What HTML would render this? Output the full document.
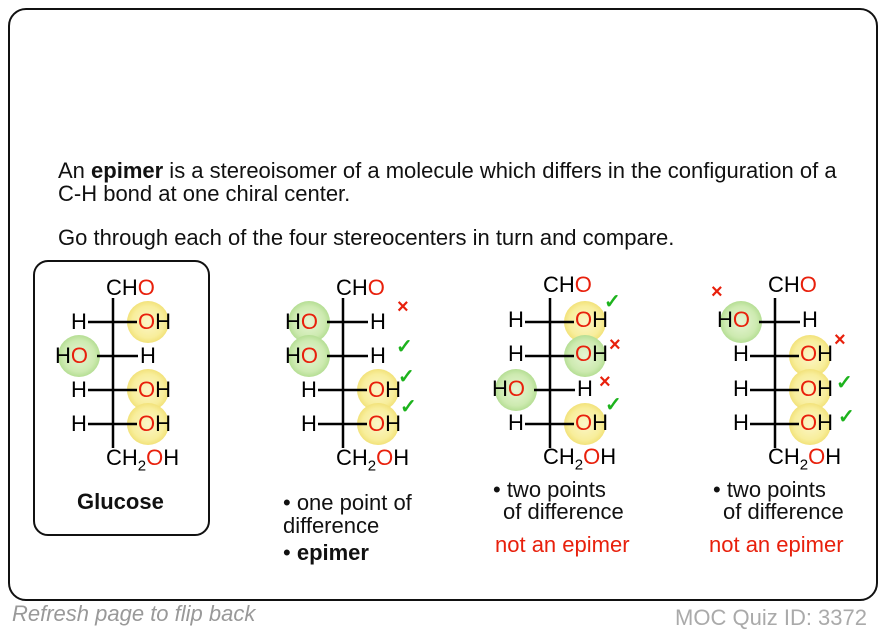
<!DOCTYPE html>
<html><head><meta charset="utf-8"><style>
body{margin:0;width:884px;height:632px;background:#fff;position:relative;overflow:hidden;font-family:"Liberation Sans",sans-serif;}
.a{position:absolute;white-space:nowrap;line-height:26px;}
.f{font-size:22px;color:#000;}
.r{color:#e8200c;}
.s{position:absolute;left:0;top:0;width:884px;height:632px;}
.m{position:absolute;font-size:20px;font-weight:bold;line-height:20px;}
.g{color:#1db31d;}
.t{font-size:22px;color:#111;}
sub{font-size:15px;line-height:0;}
</style></head><body>
<div style="position:absolute;left:8px;top:8px;width:866px;height:589px;border:2px solid #111;border-radius:18px;"></div>
<div class="a t" style="left:58px;top:158px;">An <b>epimer</b> is a stereoisomer of a molecule which differs in the configuration of a</div>
<div class="a t" style="left:58px;top:181px;">C-H bond at one chiral center.</div>
<div class="a t" style="left:58px;top:225px;">Go through each of the four stereocenters in turn and compare.</div>
<div style="position:absolute;left:33px;top:260px;width:173px;height:272px;border:2px solid #111;border-radius:15px;"></div>
<div class="a t" style="left:77px;top:489px;font-weight:bold;">Glucose</div>

<svg class="s" viewBox="0 0 884 632">
<defs>
<radialGradient id="y"><stop offset="0" stop-color="#fbf6c8"/><stop offset="0.75" stop-color="#f8ee9c"/><stop offset="1" stop-color="#f2e27a"/></radialGradient>
<radialGradient id="gr"><stop offset="0" stop-color="#e6f5d4"/><stop offset="0.75" stop-color="#cdeab0"/><stop offset="1" stop-color="#b5de94"/></radialGradient>
</defs>
<circle cx="148" cy="322" r="21" fill="url(#y)"/><circle cx="79" cy="356" r="21" fill="url(#gr)"/><circle cx="148" cy="390" r="21" fill="url(#y)"/><circle cx="148" cy="424" r="21" fill="url(#y)"/>
<g stroke="#000" stroke-width="2.5"><line x1="113" y1="298" x2="113" y2="448"/><line x1="88" y1="322" x2="137" y2="322"/><line x1="97" y1="356" x2="138" y2="356"/><line x1="88" y1="390" x2="137" y2="390"/><line x1="88" y1="424" x2="137" y2="424"/></g>
<g transform="translate(230,0)">
<circle cx="79" cy="322" r="21" fill="url(#gr)"/><circle cx="79" cy="356" r="21" fill="url(#gr)"/><circle cx="148" cy="390" r="21" fill="url(#y)"/><circle cx="148" cy="424" r="21" fill="url(#y)"/>
<g stroke="#000" stroke-width="2.5"><line x1="113" y1="298" x2="113" y2="448"/><line x1="97" y1="322" x2="138" y2="322"/><line x1="97" y1="356" x2="138" y2="356"/><line x1="88" y1="390" x2="137" y2="390"/><line x1="88" y1="424" x2="137" y2="424"/></g>
</g>
<g transform="translate(437,0)">
<circle cx="148" cy="322" r="21" fill="url(#y)"/><circle cx="148" cy="356" r="21" fill="url(#gr)"/><circle cx="79" cy="390" r="21" fill="url(#gr)"/><circle cx="148" cy="424" r="21" fill="url(#y)"/>
<g stroke="#000" stroke-width="2.5"><line x1="113" y1="298" x2="113" y2="448"/><line x1="88" y1="322" x2="137" y2="322"/><line x1="88" y1="356" x2="137" y2="356"/><line x1="97" y1="390" x2="138" y2="390"/><line x1="88" y1="424" x2="137" y2="424"/></g>
</g>
<g transform="translate(662,0)">
<circle cx="79" cy="322" r="21" fill="url(#gr)"/><circle cx="148" cy="356" r="21" fill="url(#y)"/><circle cx="148" cy="390" r="21" fill="url(#y)"/><circle cx="148" cy="424" r="21" fill="url(#y)"/>
<g stroke="#000" stroke-width="2.5"><line x1="113" y1="298" x2="113" y2="448"/><line x1="97" y1="322" x2="138" y2="322"/><line x1="88" y1="356" x2="137" y2="356"/><line x1="88" y1="390" x2="137" y2="390"/><line x1="88" y1="424" x2="137" y2="424"/></g>
</g>
</svg>

<div style="position:absolute;left:0;top:0;">
<div class="a f" style="left:106px;top:275px;">CH<span class="r">O</span></div>
<div class="a f" style="left:71px;top:309px;">H</div><div class="a f" style="left:138px;top:309px;"><span class="r">O</span>H</div>
<div class="a f" style="left:55px;top:343px;">H<span class="r">O</span></div><div class="a f" style="left:140px;top:343px;">H</div>
<div class="a f" style="left:71px;top:377px;">H</div><div class="a f" style="left:138px;top:377px;"><span class="r">O</span>H</div>
<div class="a f" style="left:71px;top:411px;">H</div><div class="a f" style="left:138px;top:411px;"><span class="r">O</span>H</div>
<div class="a f" style="left:106px;top:445px;">CH<sub>2</sub><span class="r">O</span>H</div>
</div>
<div style="position:absolute;left:230px;top:0;">
<div class="a f" style="left:106px;top:275px;">CH<span class="r">O</span></div>
<div class="a f" style="left:55px;top:309px;">H<span class="r">O</span></div><div class="a f" style="left:140px;top:309px;">H</div>
<div class="a f" style="left:55px;top:343px;">H<span class="r">O</span></div><div class="a f" style="left:140px;top:343px;">H</div>
<div class="a f" style="left:71px;top:377px;">H</div><div class="a f" style="left:138px;top:377px;"><span class="r">O</span>H</div>
<div class="a f" style="left:71px;top:411px;">H</div><div class="a f" style="left:138px;top:411px;"><span class="r">O</span>H</div>
<div class="a f" style="left:106px;top:445px;">CH<sub>2</sub><span class="r">O</span>H</div>
</div>
<div style="position:absolute;left:437px;top:0;">
<div class="a f" style="left:106px;top:272px;">CH<span class="r">O</span></div>
<div class="a f" style="left:71px;top:307px;">H</div><div class="a f" style="left:138px;top:307px;"><span class="r">O</span>H</div>
<div class="a f" style="left:71px;top:341px;">H</div><div class="a f" style="left:138px;top:341px;"><span class="r">O</span>H</div>
<div class="a f" style="left:55px;top:376px;">H<span class="r">O</span></div><div class="a f" style="left:140px;top:376px;">H</div>
<div class="a f" style="left:71px;top:410px;">H</div><div class="a f" style="left:138px;top:410px;"><span class="r">O</span>H</div>
<div class="a f" style="left:106px;top:444px;">CH<sub>2</sub><span class="r">O</span>H</div>
</div>
<div style="position:absolute;left:662px;top:0;">
<div class="a f" style="left:106px;top:272px;">CH<span class="r">O</span></div>
<div class="a f" style="left:55px;top:307px;">H<span class="r">O</span></div><div class="a f" style="left:140px;top:307px;">H</div>
<div class="a f" style="left:71px;top:341px;">H</div><div class="a f" style="left:138px;top:341px;"><span class="r">O</span>H</div>
<div class="a f" style="left:71px;top:376px;">H</div><div class="a f" style="left:138px;top:376px;"><span class="r">O</span>H</div>
<div class="a f" style="left:71px;top:410px;">H</div><div class="a f" style="left:138px;top:410px;"><span class="r">O</span>H</div>
<div class="a f" style="left:106px;top:444px;">CH<sub>2</sub><span class="r">O</span>H</div>
</div>

<div class="m r" style="left:397px;top:297px;">×</div>
<div class="m g" style="left:396px;top:337px;">✓</div>
<div class="m g" style="left:398px;top:367px;">✓</div>
<div class="m g" style="left:400px;top:397px;">✓</div>
<div class="m g" style="left:604px;top:292px;">✓</div>
<div class="m r" style="left:609px;top:335px;">×</div>
<div class="m r" style="left:599px;top:372px;">×</div>
<div class="m g" style="left:605px;top:395px;">✓</div>
<div class="m r" style="left:711px;top:282px;">×</div>
<div class="m r" style="left:834px;top:330px;">×</div>
<div class="m g" style="left:836px;top:373px;">✓</div>
<div class="m g" style="left:838px;top:407px;">✓</div>

<div class="a t" style="left:283px;top:490px;">• one point of</div>
<div class="a t" style="left:283px;top:513px;">difference</div>
<div class="a t" style="left:283px;top:540px;">• <b>epimer</b></div>
<div class="a t" style="left:493px;top:477px;">• two points</div>
<div class="a t" style="left:503px;top:499px;">of difference</div>
<div class="a t" style="left:495px;top:532px;color:#e8200c;">not an epimer</div>
<div class="a t" style="left:713px;top:477px;">• two points</div>
<div class="a t" style="left:723px;top:499px;">of difference</div>
<div class="a t" style="left:709px;top:532px;color:#e8200c;">not an epimer</div>

<div class="a" style="left:12px;top:601px;font-size:22px;font-style:italic;color:#999;">Refresh page to flip back</div>
<div class="a" style="right:17px;top:605px;font-size:22px;color:#aaa;">MOC Quiz ID: 3372</div>
</body></html>
